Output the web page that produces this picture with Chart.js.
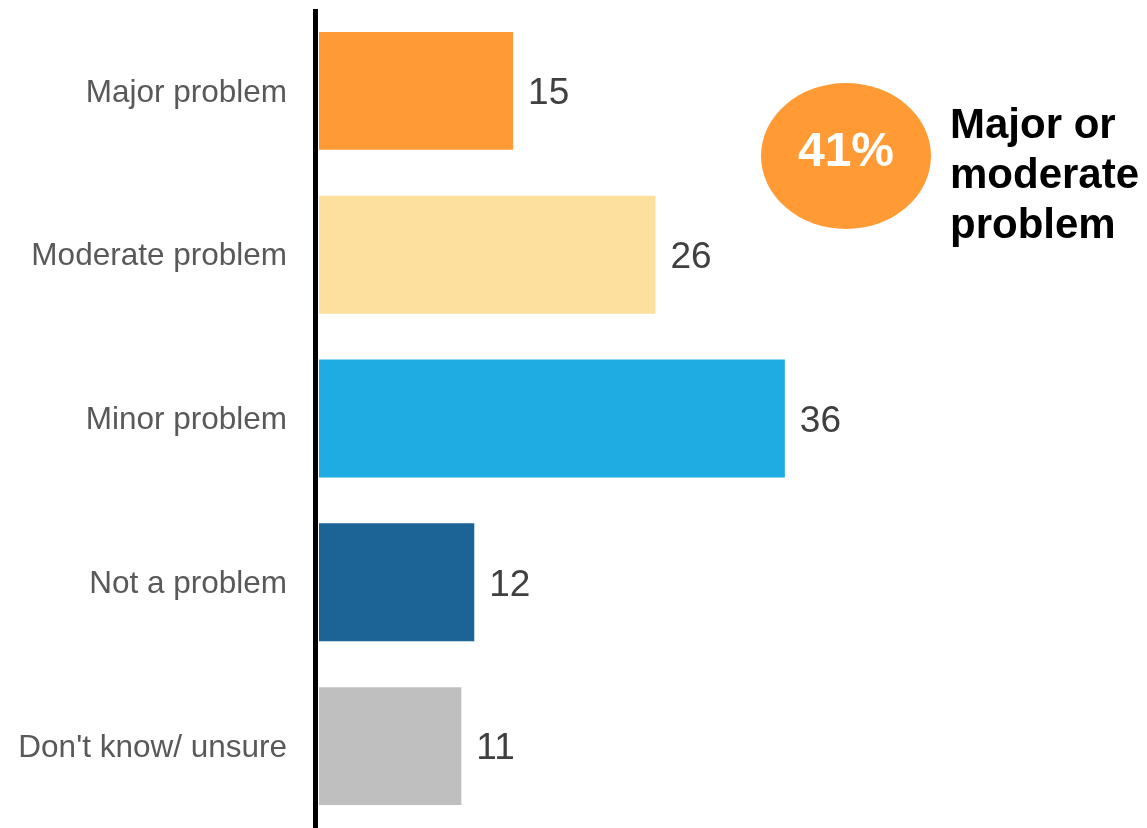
<!DOCTYPE html>
<html>
<head>
<meta charset="utf-8">
<script src="https://cdn.jsdelivr.net/npm/chart.js@4"></script>
<style>
  html, body { margin: 0; padding: 0; background: #fff; overflow: hidden; }
  #wrap { width: 1147px; height: 828px; }
</style>
</head>
<body>
<div id="wrap"><canvas id="myChart"></canvas></div>
<script>
// Survey answers, one bar per answer
const categories = ["Major problem", "Moderate problem", "Minor problem", "Not a problem", "Don't know/ unsure"];
const percents = [15, 26, 36, 12, 11];
const barColors = ["#FF9A35", "#FDDF9E", "#1EACE2", "#1C6396", "#BFBFBF"];

// Callout total: major + moderate
const calloutValue = percents[0] + percents[1];
const calloutLines = ["Major or", "moderate", "problem"];

const FONT = "'Liberation Sans', Arial, Helvetica, sans-serif";

// Thick black baseline just left of the bars
const baseline = {
    id: "baseline",
    afterDatasetsDraw(chart) {
        const { ctx, chartArea } = chart;
        ctx.save();
        ctx.fillStyle = "#000000";
        ctx.fillRect(chartArea.left - 6, chartArea.top, 5, chart.height - chartArea.top);
        ctx.restore();
    },
};

// Number printed to the right of every bar
const valueLabels = {
    id: "valueLabels",
    afterDatasetsDraw(chart) {
        const ctx = chart.ctx;
        const meta = chart.getDatasetMeta(0);
        ctx.save();
        ctx.font = "37px " + FONT;
        ctx.fillStyle = "#404040";
        ctx.textAlign = "left";
        ctx.textBaseline = "middle";
        meta.data.forEach((bar, i) => {
            ctx.fillText(String(percents[i]), bar.x + 15, bar.y + 3);
        });
        ctx.restore();
    },
};

// Orange bubble with the combined share and its caption
const callout = {
    id: "callout",
    afterDraw(chart) {
        const ctx = chart.ctx;
        ctx.save();
        ctx.fillStyle = "#FF9A35";
        ctx.beginPath();
        ctx.ellipse(846, 156, 85, 73, 0, 0, Math.PI * 2);
        ctx.fill();

        ctx.fillStyle = "#FFFFFF";
        ctx.font = "bold 48px " + FONT;
        ctx.textAlign = "center";
        ctx.textBaseline = "middle";
        ctx.fillText(calloutValue + "%", 846, 153);

        ctx.fillStyle = "#000000";
        ctx.font = "bold 42px " + FONT;
        ctx.textAlign = "left";
        calloutLines.forEach((line, i) => {
            ctx.fillText(line, 950, 126 + i * 50);
        });
        ctx.restore();
    },
};

const ctx = document.getElementById("myChart").getContext("2d");
const myChart = new Chart(ctx, {
    type: "bar",
    data: {
        labels: categories,
        datasets: [
            {
                data: percents,
                backgroundColor: barColors,
                borderWidth: 0,
                categoryPercentage: 1,
                barPercentage: 0.72,
            },
        ],
    },
    options: {
        indexAxis: "y",
        responsive: true,
        maintainAspectRatio: false,
        animation: false,
        layout: { padding: { top: 9, right: 181, bottom: 0, left: 0 } },
        plugins: {
            legend: { display: false },
            tooltip: { enabled: false },
        },
        scales: {
            x: {
                display: false,
                min: 0,
                max: 50,
            },
            y: {
                afterFit: (scale) => {
                    scale.width = 319;
                    scale.paddingTop = 0;
                    scale.paddingBottom = 0;
                },
                grid: { display: false, drawTicks: false },
                border: { display: false },
                ticks: {
                    padding: 32,
                    labelOffset: 2,
                    color: "#595959",
                    font: { family: FONT, size: 31.5 },
                },
            },
        },
    },
    plugins: [baseline, valueLabels, callout],
});
</script>
</body>
</html>
